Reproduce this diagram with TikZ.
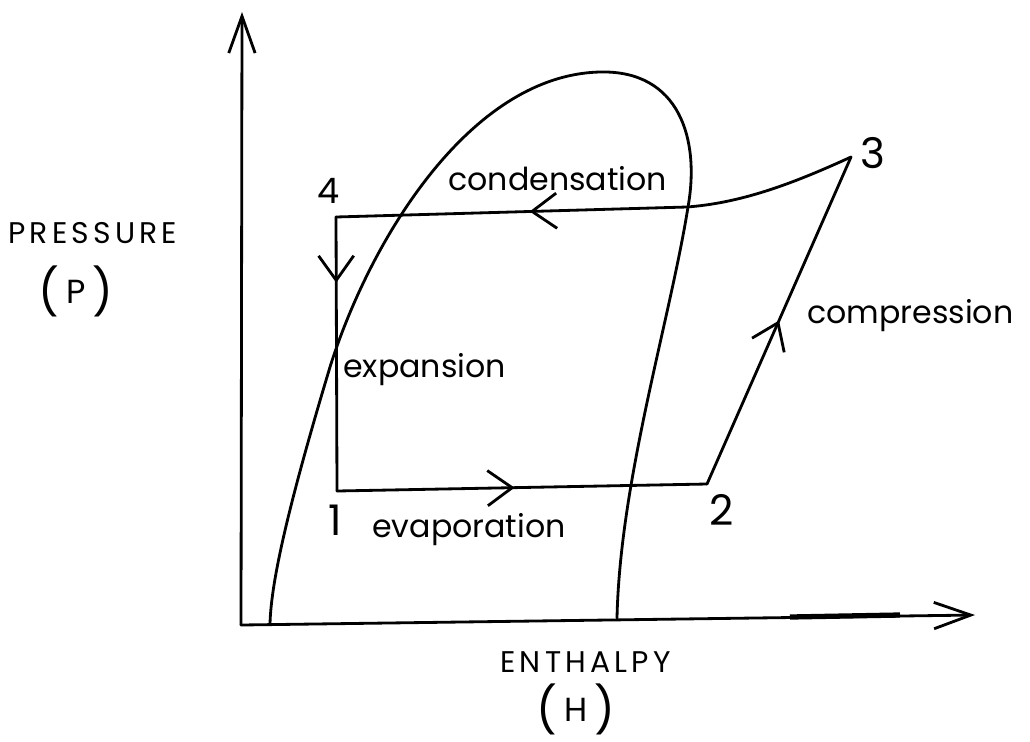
\documentclass[tikz,border=0pt]{standalone}
\usepackage{fontspec}
\setmainfont{Poppins}
\usetikzlibrary{arrows.meta,decorations.markings}

\tikzset{
  line/.style={line width=1.6pt, line join=round, line cap=round},
  lbl/.style={font=\fontsize{18}{20}\selectfont, inner sep=0pt, anchor=base west},
  axislbl/.style={font=\fontsize{17}{20}\selectfont\addfontfeature{LetterSpace=14}, inner sep=0pt, anchor=base west},
  paren/.style={font=\fontsize{26}{28}\selectfont, inner sep=0pt, anchor=base},
  num/.style={font=\fontsize{24}{26}\selectfont, inner sep=0pt},
  mid arrow/.style={postaction={decorate, decoration={markings,
      mark=at position #1 with {\arrow{Straight Barb[length=14pt, width=20pt]}}}}}
}
\newcommand{\parenletter}[1]{(\hspace{4pt}\raisebox{2.5pt}{\fontsize{19}{21}\selectfont #1}\hspace{4pt})}

\begin{document}
\begin{tikzpicture}[x=0.02cm, y=-0.02cm, >={Straight Barb[length=21pt, width=15pt]}]
  \useasboundingbox (0,0) rectangle (1030,741);

  % Axes
  \coordinate (o) at (241,625);
  \coordinate (ytip) at (242,12);
  \coordinate (xtip) at (975,615);
  \draw[line, ->] (o) -- (ytip);
  \draw[line, ->] (o) -- (xtip);
  \draw[line width=3pt] (790,617) -- (900,615);

  % Saturation dome
  \draw[line] (270,624) .. controls (271,580) and (290,500) .. (330,367)
    .. controls (370,240) and (470,75) .. (600,72)
    .. controls (680,70) and (700,140) .. (688,207)
    .. controls (670,320) and (620,480) .. (617,618);

  % Cycle corners
  \coordinate (p1) at (337,491);
  \coordinate (p2) at (707,484);
  \coordinate (p3) at (851,157);
  \coordinate (p4) at (336,217);
  \coordinate (sat) at (687,207);

  \draw[line, mid arrow=0.24] (p4) -- (p1);
  \draw[line, mid arrow=0.48] (p1) -- (p2);
  \draw[line, mid arrow=0.50] (p2) -- (p3);
  \draw[line, mid arrow=0.63] (p3) .. controls (790,185) and (740,203) .. (sat) -- (p4);

  % Point numbers
  \node[num] (n1) at (335,520) {1};
  \node[num] (n2) at (722,510) {2};
  \node[num] (n3) at (873,153) {3};
  \node[num, font=\fontsize{20}{22}\selectfont] (n4) at (329,191) {4};

  % Process labels
  \node[lbl] (lcond) at (448,190) {condensation};
  \node[lbl] (lcomp) at (807,323) {compression};
  \node[lbl] (lexp) at (343,377) {expansion};
  \node[lbl] (levap) at (372,537) {evaporation};

  % Axis labels
  \node[axislbl] (lpress) at (8,243) {PRESSURE};
  \node[paren] (lp) at (76,308) {\parenletter{P}};
  \node[axislbl] (lenth) at (500,672) {ENTHALPY};
  \node[paren] (lh) at (576,726) {\parenletter{H}};
\end{tikzpicture}
\end{document}
